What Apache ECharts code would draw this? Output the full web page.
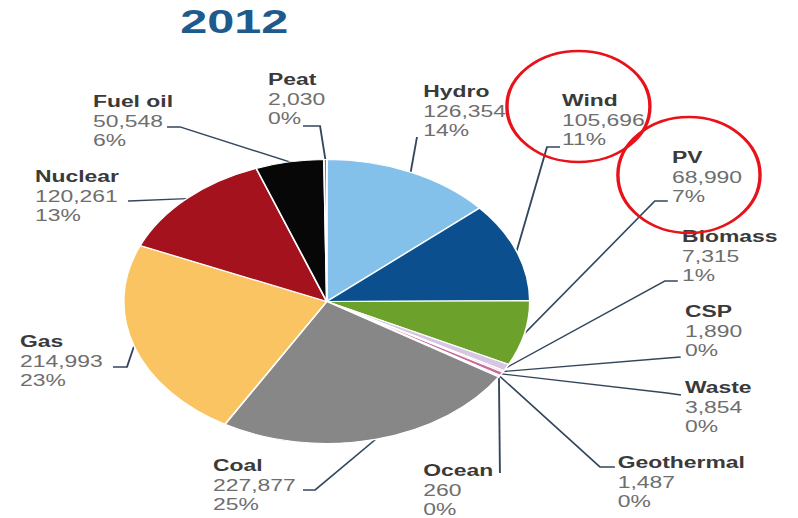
<!DOCTYPE html>
<html>
<head>
<meta charset="utf-8">
<title>2012</title>
<script src="https://cdn.jsdelivr.net/npm/echarts@6/dist/echarts.min.js"></script>
<style>
  html, body { margin: 0; padding: 0; background: #ffffff; overflow: hidden; }
  /* the whole figure is drawn narrow and stretched sideways, which turns the pie into an ellipse */
  #chart { width: 558px; height: 518px; transform: scaleX(1.43); transform-origin: 0 0; }
</style>
</head>
<body>
<div id="chart"></div>
<script>
// Electricity generation by source, 2012
const categories = ['Hydro', 'Wind', 'PV', 'Biomass', 'CSP', 'Waste', 'Geothermal', 'Ocean',
                    'Coal', 'Gas', 'Nuclear', 'Fuel oil', 'Peat'];
const values = [126354, 105696, 68990, 7315, 1890, 3854, 1487, 260,
                227877, 214993, 120261, 50548, 2030];
const shares = [14, 11, 7, 1, 0, 0, 0, 0, 25, 23, 13, 6, 0];
const colors = ['#84c1ea', '#0b4f8f', '#6ca22c', '#d6c6e4', '#f3c9d6', '#c86b98', '#e4a9b8', '#b9d6ea',
                '#878787', '#fbc462', '#a3121d', '#070707', '#8a6440'];

// label placement (top-left of each text block) and leader line bend/end points, pre-stretch pixels
const labelAnchors = [[296, 82], [393, 91], [470, 148], [477, 227], [479, 302], [479, 378], [432, 453],
                      [296, 461], [149, 456], [14, 332], [24.5, 167], [65, 92], [187.4, 70]];
const lineBends = [[291.6, 137], [382.5, 147], [458, 201], [465, 281], [467, 358], [466.4, 393], [419.6, 467],
                   [349.6, 473], [220.3, 490], [88.8, 367], [90, 201], [125.9, 127], [223.8, 126]];
const lineEnds = [[291.6, 137], [391.6, 147], [467, 201], [474, 281], [476, 357], [476.2, 395], [430, 467],
                  [349.6, 473], [211.9, 490], [79, 367], [89.5, 201], [116.8, 127], [211.9, 126]];

const FONT = '"Liberation Sans", Arial, Helvetica, sans-serif';
const fmt = v => String(v).replace(/\B(?=(\d{3})+(?!\d))/g, ',');

const chart = echarts.init(document.getElementById('chart'), null, { renderer: 'svg' });

chart.setOption({
  backgroundColor: '#ffffff',
  animation: false,
  title: {
    text: '2012',
    left: 126,
    top: 4,
    padding: 0,
    textStyle: { fontFamily: FONT, fontSize: 34, fontWeight: 'bold', color: '#1e5a8c' }
  },
  graphic: [
    {
      type: 'ellipse',
      shape: { cx: 404.5, cy: 106.5, rx: 50, ry: 55.5 },
      style: { fill: 'none', stroke: '#e8121b', lineWidth: 2.4 },
      z: 10
    },
    {
      type: 'ellipse',
      shape: { cx: 481.8, cy: 175, rx: 49.7, ry: 58 },
      style: { fill: 'none', stroke: '#e8121b', lineWidth: 2.4 },
      z: 10
    }
  ],
  series: [{
    type: 'pie',
    center: [228.5, 301.5],
    radius: 142,
    startAngle: 90,
    clockwise: true,
    avoidLabelOverlap: false,
    minShowLabelAngle: 0,
    itemStyle: { borderColor: '#ffffff', borderWidth: 1.2 },
    label: {
      show: true,
      position: 'outside',
      fontFamily: FONT,
      formatter: p => '{n|' + p.name + '}\n{v|' + fmt(p.value) + '}\n{v|' + shares[p.dataIndex] + '%}',
      rich: {
        n: { fontFamily: FONT, fontSize: 16, fontWeight: 'bold', color: '#3a3a3a', lineHeight: 19.5 },
        v: { fontFamily: FONT, fontSize: 16, color: '#6e6e6e', lineHeight: 19.5 }
      }
    },
    labelLine: {
      show: true,
      length: 10,
      length2: 10,
      lineStyle: { color: '#33475c', width: 1.3 }
    },
    labelLayout: function (params) {
      const i = params.dataIndex;
      const start = params.labelLinePoints ? params.labelLinePoints[0] : lineBends[i];
      return {
        x: labelAnchors[i][0],
        y: labelAnchors[i][1],
        align: 'left',
        verticalAlign: 'top',
        labelLinePoints: [start, lineBends[i], lineEnds[i]]
      };
    },
    emphasis: { disabled: true },
    data: categories.map((name, i) => ({
      name: name,
      value: values[i],
      itemStyle: { color: colors[i] }
    }))
  }]
});
</script>
</body>
</html>
